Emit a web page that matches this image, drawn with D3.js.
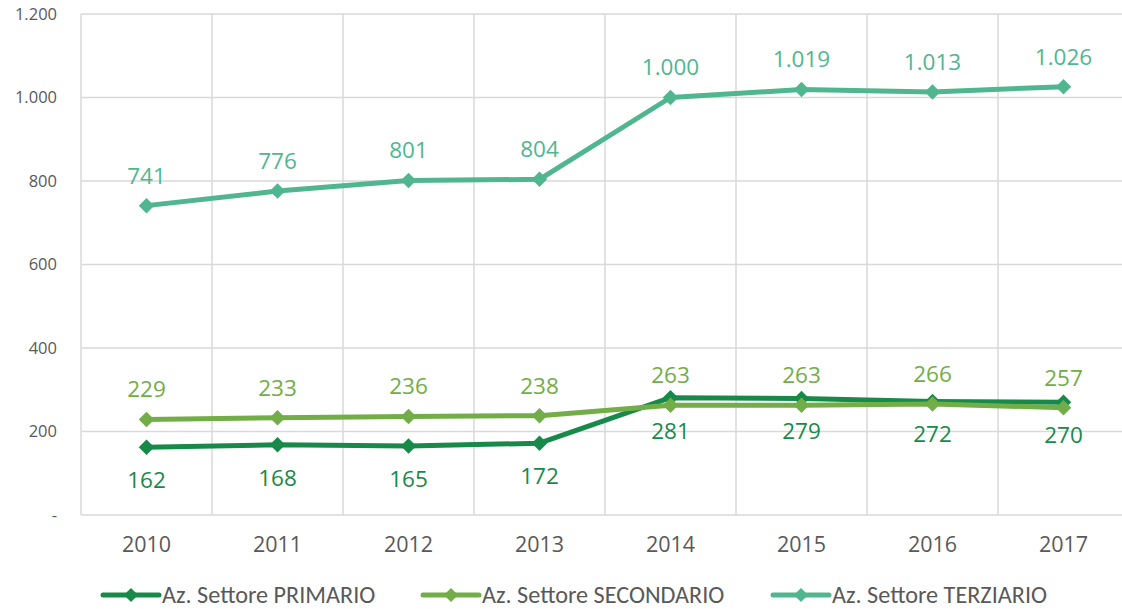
<!DOCTYPE html>
<html><head><meta charset="utf-8">
<script src="https://cdn.jsdelivr.net/npm/d3@7"></script>
<style>body{margin:0;background:#fff;overflow:hidden}</style>
</head><body><svg id="c" width="1122" height="609"></svg>
<script>
const years = ["2010","2011","2012","2013","2014","2015","2016","2017"];
const primario = [162,168,165,172,281,279,272,270];
const secondario = [229,233,236,238,263,263,266,257];
const terziario = [741,776,801,804,1000,1019,1013,1026];
const yTicks = [0,200,400,600,800,1000,1200];
const seriesNames = ["Az. Settore PRIMARIO","Az. Settore SECONDARIO","Az. Settore TERZIARIO"];

const series = [
  {name: seriesNames[0], values: primario, color: "#178a4a", labelPos: "below"},
  {name: seriesNames[1], values: secondario, color: "#72ad47", labelPos: "above"},
  {name: seriesNames[2], values: terziario, color: "#50b690", labelPos: "above"}
];

const svg = d3.select("#c");
const pLeft = 81, pRight = 1129, pTop = 14, pBottom = 515;
const x = d3.scaleBand().domain(years).range([pLeft, pRight]);
const y = d3.scaleLinear().domain([0,1200]).range([pBottom, pTop]);
const fmt = v => v === 0 ? "-" : d3.format(",")(v).replace(/,/g, ".");
const numFont = "'Open Sans', sans-serif";

// grid
svg.append("g").selectAll("line").data(yTicks).join("line")
  .attr("x1", pLeft).attr("x2", pRight).attr("y1", d => y(d)).attr("y2", d => y(d))
  .attr("stroke", "#d9d9d9").attr("stroke-width", 1.5);
svg.append("g").selectAll("line").data(years.concat(["_end"])).join("line")
  .attr("x1", (d,i) => pLeft + i*x.bandwidth()).attr("x2", (d,i) => pLeft + i*x.bandwidth())
  .attr("y1", pTop).attr("y2", pBottom)
  .attr("stroke", "#d9d9d9").attr("stroke-width", 1.5);

// y axis labels
svg.append("g").selectAll("text").data(yTicks).join("text")
  .attr("x", 57).attr("y", d => y(d)).attr("dy", "0.35em")
  .attr("text-anchor", "end").attr("font-family", numFont).attr("font-size", 16.5)
  .attr("fill", "#595959").text(fmt);

// x axis labels
svg.append("g").selectAll("text").data(years).join("text")
  .attr("x", d => x(d) + x.bandwidth()/2).attr("y", 552)
  .attr("text-anchor", "middle").attr("font-family", numFont).attr("font-size", 21.5)
  .attr("fill", "#595959").text(d => d);

const line = d3.line().x((d,i) => x(years[i]) + x.bandwidth()/2).y(d => y(d));
const diamond = d3.symbol().type(d3.symbolSquare).size(120);

series.forEach(s => {
  const g = svg.append("g");
  g.append("path").datum(s.values).attr("d", line)
    .attr("fill", "none").attr("stroke", s.color).attr("stroke-width", 5)
    .attr("stroke-linejoin", "round");
  g.selectAll("path.m").data(s.values).join("path").attr("class","m")
    .attr("d", diamond)
    .attr("transform", (d,i) => `translate(${x(years[i]) + x.bandwidth()/2},${y(d)}) rotate(45)`)
    .attr("fill", s.color);
});
series.forEach(s => {
  svg.append("g").selectAll("text").data(s.values).join("text")
    .attr("x", (d,i) => x(years[i]) + x.bandwidth()/2)
    .attr("y", d => y(d) + (s.labelPos === "above" ? -30 : 33))
    .attr("dy", "0.35em")
    .attr("text-anchor", "middle").attr("font-family", numFont).attr("font-size", 22.5)
    .attr("fill", s.color).text(fmt);
});

// legend
const legX = [103, 423, 773];
const leg = svg.append("g");
series.forEach((s, i) => {
  const lg = leg.append("g").attr("transform", `translate(${legX[i]},595)`);
  lg.append("line").attr("x1", 0).attr("x2", 56).attr("y1", 0).attr("y2", 0)
    .attr("stroke", s.color).attr("stroke-width", 5).attr("stroke-linecap", "round");
  lg.append("path").attr("d", d3.symbol().type(d3.symbolSquare).size(100)).attr("transform","translate(28,0) rotate(45)").attr("fill", s.color);
  lg.append("text").attr("x", 59).attr("y", 0).attr("dy", "0.35em")
    .attr("font-family", "Carlito, 'Open Sans', sans-serif").attr("font-size", 24.2)
    .attr("fill", "#595959").text(s.name);
});
</script></body></html>
